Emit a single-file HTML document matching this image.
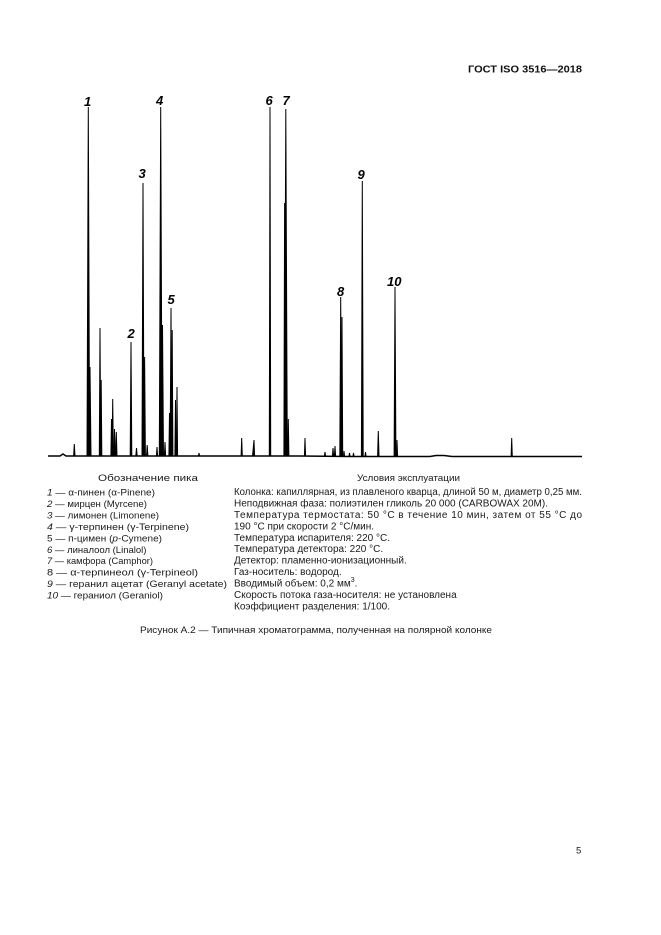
<!DOCTYPE html>
<html><head><meta charset="utf-8">
<style>
html,body{margin:0;padding:0;background:#fff;}
svg{display:block;}
text{font-family:"Liberation Sans","Noto Sans CJK SC",sans-serif;fill:#1a1a1a;}
.t{font-size:9.5px;}
.r{font-size:10px;}
.lb{font-size:13px;font-style:italic;font-weight:bold;fill:#000;}
</style></head><body>
<svg width="661" height="935" viewBox="0 0 661 935" xmlns="http://www.w3.org/2000/svg">
<rect width="661" height="935" fill="#fff"/>
<text x="468" y="72.5" style="font-size:10.5px;font-weight:bold;fill:#111" textLength="114" lengthAdjust="spacingAndGlyphs">ГОСТ ISO 3516—2018</text>

<!-- baseline -->
<g fill="none" stroke="#000" stroke-width="1.4" stroke-linejoin="miter">
<path d="M48 456 L60 456 L63 454 L66 456 L210 456 L226 456 L236 456 L300 456 L350 456.5 L430 456.5 L436 455.5 L444 455.5 L452 456.5 L505 456.5 L582 456.5"/>
</g>
<g fill="#000" stroke="#000" stroke-width="1" stroke-linejoin="miter">
<path d="M73.6 456 L74.3 444 L75 456Z"/>
<path d="M87 456 L88.3 107 L89.6 456Z"/>
<path d="M89 456 L90 367 L91 456Z"/>
<path d="M99.3 456 L100 328 L100.8 456Z"/>
<path d="M100.5 456 L101.2 380 L101.8 456Z"/>
<path d="M110.9 456 L111.5 419 L112.1 456Z"/>
<path d="M112.1 456 L112.7 399 L113.4 456Z"/>
<path d="M113.8 456 L114.5 429 L115.2 456Z"/>
<path d="M115.6 456 L116.3 432 L117 456Z"/>
<path d="M130.2 456 L131 342 L131.8 456Z"/>
<path d="M135.8 456 L136.5 448 L137.2 456Z"/>
<path d="M142 456 L143 183 L144 456Z"/>
<path d="M143.8 456 L144.6 357 L145.4 456Z"/>
<path d="M146.5 456 L147.2 445 L147.9 456Z"/>
<path d="M156.4 456 L157 447 L157.6 456Z"/>
<path d="M159.3 456 L160.7 107 L162.1 456Z"/>
<path d="M161.5 456 L162.5 325 L163.5 456Z"/>
<path d="M164.4 456 L165 442 L165.6 456Z"/>
<path d="M168.9 456 L169.5 413 L170.1 456Z"/>
<path d="M170.1 456 L171 308 L171.9 456Z"/>
<path d="M171.5 456 L172.2 330 L172.9 456Z"/>
<path d="M174.9 456 L175.5 400 L176.1 456Z"/>
<path d="M176.4 456 L177 387 L177.6 456Z"/>
<path d="M198.4 456 L199 453 L199.6 456Z"/>
<path d="M241.1 456 L241.7 438 L242.3 456Z"/>
<path d="M252.5 456 L254 440 L254.6 456Z"/>
<path d="M269.3 456 L270 107 L270.7 456Z"/>
<path d="M283.9 456 L284.6 203 L285.3 456Z"/>
<path d="M284.4 456 L285.8 109 L287.3 456Z"/>
<path d="M287.7 456 L288.3 419 L288.9 456Z"/>
<path d="M304.4 456 L305 438 L305.6 456Z"/>
<path d="M324.4 456 L325 452 L325.6 456Z"/>
<path d="M332.4 456 L333 448 L333.6 456Z"/>
<path d="M334.4 456 L335 446 L335.6 456Z"/>
<path d="M339.8 456 L340.7 297 L341.6 456Z"/>
<path d="M341.3 456 L342 317 L342.7 456Z"/>
<path d="M343.5 456 L344 451 L344.5 456Z"/>
<path d="M349 456 L349.5 453 L350 456Z"/>
<path d="M353 456 L353.5 453 L354 456Z"/>
<path d="M361.4 456 L362.3 181 L363.2 456Z"/>
<path d="M365 456 L365.5 452 L366 456Z"/>
<path d="M377.6 456 L378.3 431 L379 456Z"/>
<path d="M394.1 456 L395 287 L395.9 456Z"/>
<path d="M396.4 456 L397 440 L397.6 456Z"/>
<path d="M511.1 456.5 L511.7 438 L512.3 456.5Z"/>
</g>

<!-- peak labels -->
<text class="lb" x="84" y="106">1</text>
<text class="lb" x="127.5" y="338">2</text>
<text class="lb" x="138.5" y="178">3</text>
<text class="lb" x="156" y="105">4</text>
<text class="lb" x="167.5" y="304">5</text>
<text class="lb" x="265.5" y="105">6</text>
<text class="lb" x="282.5" y="105">7</text>
<text class="lb" x="337" y="296">8</text>
<text class="lb" x="357.5" y="179">9</text>
<text class="lb" x="387" y="286">10</text>

<!-- left column -->
<text class="t" x="98" y="481" textLength="100" lengthAdjust="spacingAndGlyphs">Обозначение пика</text>
<text class="t" x="47" y="495.5" textLength="108" lengthAdjust="spacingAndGlyphs"><tspan font-style="italic">1</tspan> — α-пинен (α-Pinene)</text>
<text class="t" x="47" y="507" textLength="100" lengthAdjust="spacingAndGlyphs"><tspan font-style="italic">2</tspan> — мирцен (Myrcene)</text>
<text class="t" x="47" y="518.4" textLength="112" lengthAdjust="spacingAndGlyphs"><tspan font-style="italic">3</tspan> — лимонен (Limonene)</text>
<text class="t" x="47" y="529.9" textLength="142" lengthAdjust="spacingAndGlyphs"><tspan font-style="italic">4</tspan> — γ-терпинен (γ-Terpinene)</text>
<text class="t" x="47" y="541.3" textLength="115" lengthAdjust="spacingAndGlyphs">5 — п-цимен (<tspan font-style="italic">p</tspan>-Cymene)</text>
<text class="t" x="47" y="552.8"><tspan font-style="italic">6</tspan> — линалоол (Linalol)</text>
<text class="t" x="47" y="564.2" textLength="106" lengthAdjust="spacingAndGlyphs"><tspan font-style="italic">7</tspan> — камфора (Camphor)</text>
<text class="t" x="47" y="575.7" textLength="151" lengthAdjust="spacingAndGlyphs">8 — α-терпинеол (γ-Terpineol)</text>
<text class="t" x="47" y="587.1" textLength="180" lengthAdjust="spacingAndGlyphs"><tspan font-style="italic">9</tspan> — геранил ацетат (Geranyl acetate)</text>
<text class="t" x="47" y="598.6" textLength="116" lengthAdjust="spacingAndGlyphs"><tspan font-style="italic">10</tspan> — гераниол (Geraniol)</text>

<!-- right column -->
<text class="t" x="357" y="481" textLength="103" lengthAdjust="spacingAndGlyphs">Условия эксплуатации</text>
<text class="r" x="234" y="495" textLength="348" lengthAdjust="spacingAndGlyphs">Колонка: капиллярная, из плавленого кварца, длиной 50 м, диаметр 0,25 мм.</text>
<text class="r" x="234" y="506.4" textLength="314" lengthAdjust="spacingAndGlyphs">Неподвижная фаза: полиэтилен гликоль 20 000 (CARBOWAX 20M).</text>
<text class="r" x="234" y="517.9" textLength="348" lengthAdjust="spacing">Температура термостата: 50 °C в течение 10 мин, затем от 55 °C до</text>
<text class="r" x="234" y="529.3">190 °C при скорости 2 °C/мин.</text>
<text class="r" x="234" y="540.8">Температура испарителя: 220 °C.</text>
<text class="r" x="234" y="552.2">Температура детектора: 220 °C.</text>
<text class="r" x="234" y="563.7">Детектор: пламенно-ионизационный.</text>
<text class="r" x="234" y="575.1">Газ-носитель: водород.</text>
<text class="r" x="234" y="586.6">Вводимый объем: 0,2 мм<tspan font-size="7" dy="-4.5">3</tspan><tspan dy="4.5">.</tspan></text>
<text class="r" x="234" y="598">Скорость потока газа-носителя: не установлена</text>
<text class="r" x="234" y="609.5">Коэффициент разделения: 1/100.</text>

<!-- caption -->
<text class="t" x="140" y="633" textLength="352" lengthAdjust="spacingAndGlyphs">Рисунок А.2 — Типичная хроматограмма, полученная на полярной колонке</text>

<text x="576" y="853.5" style="font-size:9.5px">5</text>
</svg>
</body></html>
